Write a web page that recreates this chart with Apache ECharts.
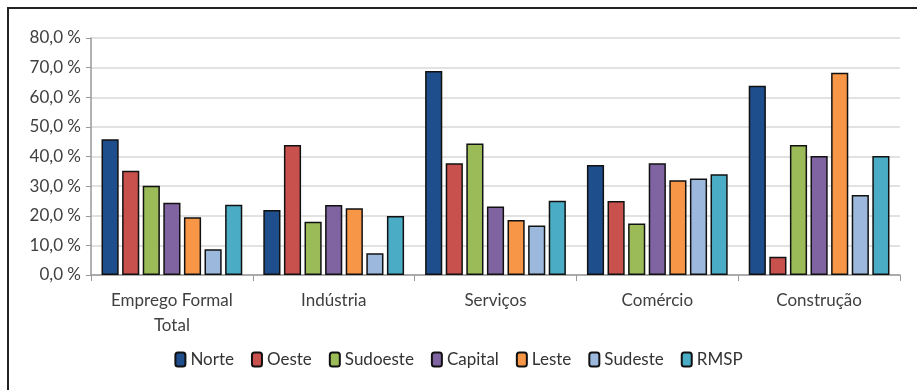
<!DOCTYPE html>
<html>
<head>
<meta charset="utf-8">
<script src="https://cdn.jsdelivr.net/npm/echarts@6/dist/echarts.min.js"></script>
<style>
html,body{margin:0;padding:0;background:#fff;}
#chart{width:917px;height:390px;}
</style>
</head>
<body>
<div id="chart"></div>
<script>
const categories = ['Emprego Formal\nTotal', 'Indústria', 'Serviços', 'Comércio', 'Construção'];
const seriesNames = ['Norte', 'Oeste', 'Sudoeste', 'Capital', 'Leste', 'Sudeste', 'RMSP'];
const norte    = [45.8, 21.9, 68.9, 37.1, 63.9];
const oeste    = [35.2, 43.9, 37.7, 25.0, 6.2];
const sudoeste = [30.1, 18.0, 44.4, 17.4, 43.9];
const capital  = [24.4, 23.6, 23.1, 37.7, 40.2];
const leste    = [19.5, 22.5, 18.6, 32.0, 68.3];
const sudeste  = [8.7, 7.3, 16.7, 32.6, 27.0];
const rmsp     = [23.7, 19.9, 25.1, 34.0, 40.2];
const yTicks = [0, 10, 20, 30, 40, 50, 60, 70, 80];
const colors = ['#1F4E8C', '#C8504D', '#9BBB59', '#8064A2', '#F79646', '#9CB8DD', '#4BACC6'];
const values = [norte, oeste, sudoeste, capital, leste, sudeste, rmsp];

const font = 'Lato, "Open Sans", sans-serif';
const chart = echarts.init(document.getElementById('chart'), null, {renderer: 'canvas'});
chart.setOption({
  animation: false,
  backgroundColor: '#fff',
  textStyle: {fontFamily: font},
  graphic: [
    {type: 'line', shape: {x1: 7, y1: 8, x2: 917, y2: 8}, style: {stroke: '#222', lineWidth: 2}},
    {type: 'line', shape: {x1: 8, y1: 7, x2: 8, y2: 390}, style: {stroke: '#222', lineWidth: 2}}
  ],
  grid: {left: 91, right: 17, top: 38, bottom: 115, containLabel: false},
  legend: {
    data: seriesNames,
    bottom: 17,
    left: 'center',
    itemWidth: 10,
    itemHeight: 14,
    itemGap: 17,
    textStyle: {fontFamily: font, fontSize: 17, color: '#333', padding: [0, 0, 0, 0]},
    icon: 'roundRect'
  },
  xAxis: {
    type: 'category',
    data: categories,
    axisLine: {lineStyle: {color: '#999', width: 1.5}},
    axisTick: {show: true, length: 6, lineStyle: {color: '#999'}},
    axisLabel: {fontFamily: font, fontSize: 17, color: '#404040', margin: 13, lineHeight: 25}
  },
  yAxis: {
    type: 'value',
    min: 0, max: 80, interval: 10,
    axisLine: {show: true, lineStyle: {color: '#999', width: 1.5}},
    axisTick: {show: true, length: 5, lineStyle: {color: '#999'}},
    splitLine: {lineStyle: {color: '#d9d9d9', width: 1.5}},
    axisLabel: {fontFamily: font, fontSize: 17, color: '#404040', margin: 10,
      formatter: v => v.toFixed(1).replace('.', ',') + ' %'}
  },
  series: seriesNames.map((name, i) => ({
    name: name,
    type: 'bar',
    data: values[i],
    barGap: '20%',
    barCategoryGap: '13%',
    itemStyle: {color: colors[i], borderColor: '#111', borderWidth: 1.5}
  }))
});
</script>
</body>
</html>
